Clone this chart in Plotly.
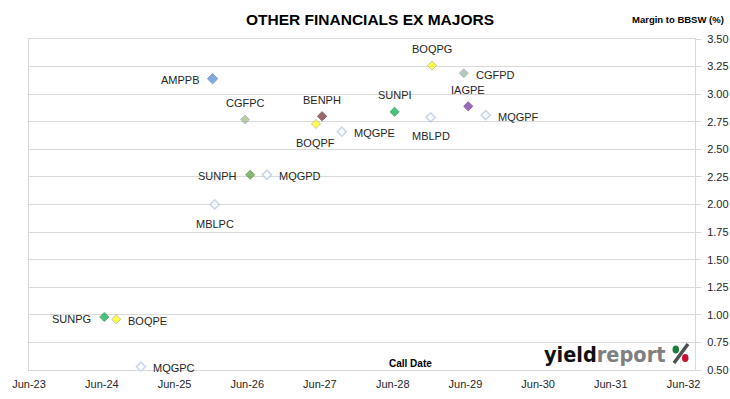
import plotly.graph_objects as go

# ---- data ----
codes = ["AMPPB", "MBLPC", "CGFPC", "SUNPH", "MQGPD", "BOQPF", "BENPH", "MQGPE",
         "SUNPI", "MBLPD", "BOQPG", "CGFPD", "IAGPE", "MQGPF", "SUNPG", "BOQPE", "MQGPC"]
call_dates = ["2025-12-09", "2025-12-20", "2026-05-21", "2026-06-16", "2026-09-08",
              "2027-05-12", "2027-06-12", "2027-09-19", "2028-06-10", "2028-12-08",
              "2028-12-15", "2029-05-24", "2029-06-15", "2029-09-11", "2024-06-13",
              "2024-08-12", "2024-12-14"]
margins = [3.14, 2.00, 2.77, 2.27, 2.27, 2.73, 2.80, 2.66, 2.84, 2.79, 3.26, 3.19,
           2.89, 2.81, 0.98, 0.96, 0.53]

tick_dates = ["2023-06-01", "2024-06-01", "2025-06-01", "2026-06-01", "2027-06-01",
              "2028-06-01", "2029-06-01", "2030-06-01", "2031-06-01", "2032-06-01"]
tick_labels = ["Jun-23", "Jun-24", "Jun-25", "Jun-26", "Jun-27", "Jun-28", "Jun-29",
               "Jun-30", "Jun-31", "Jun-32"]
y_ticks = [0.50, 0.75, 1.00, 1.25, 1.50, 1.75, 2.00, 2.25, 2.50, 2.75, 3.00, 3.25, 3.50]

# ---- styles ----
HOLLOW = dict(fill="#FFFFFF", line="#B4C7E7", size=7, lw=1.6)
style = {
    "AMPPB": dict(fill="#4F86D0", line="#4479C0", size=8, lw=1),
    "MBLPC": HOLLOW, "MBLPD": HOLLOW, "MQGPC": HOLLOW, "MQGPD": HOLLOW,
    "MQGPE": HOLLOW, "MQGPF": HOLLOW,
    "CGFPC": dict(fill="#A2B97A", line="#90AACB", size=7, lw=1),
    "CGFPD": dict(fill="#9CB192", line="#8CA6C8", size=7, lw=1),
    "SUNPH": dict(fill="#5A9A36", line="#4A862C", size=7, lw=1),
    "SUNPI": dict(fill="#00A848", line="#00923C", size=7, lw=1),
    "SUNPG": dict(fill="#00A848", line="#00923C", size=7, lw=1),
    "BOQPE": dict(fill="#FFFF00", line="#B0B086", size=7, lw=1),
    "BOQPF": dict(fill="#FFFF00", line="#B0B086", size=7, lw=1),
    "BOQPG": dict(fill="#FFFF00", line="#B0B086", size=7, lw=1),
    "BENPH": dict(fill="#722828", line="#521818", size=7, lw=1),
    "IAGPE": dict(fill="#6E2E9E", line="#58207E", size=7, lw=1),
}
label_pos = {
    "AMPPB": "left", "MBLPC": "below", "CGFPC": "above", "SUNPH": "left",
    "MQGPD": "right", "BOQPF": "below", "BENPH": "above", "MQGPE": "right",
    "SUNPI": "above", "MBLPD": "below", "BOQPG": "above", "CGFPD": "right",
    "IAGPE": "above", "MQGPF": "right", "SUNPG": "left", "BOQPE": "right",
    "MQGPC": "right",
}

FONT = "Liberation Sans, Arial, sans-serif"
TXT = "#262626"
GRID = "#D9D9D9"

fig = go.Figure()
fig.add_trace(go.Scatter(
    x=call_dates, y=margins, mode="markers",
    marker=dict(symbol="diamond",
                color=[style[c]["fill"] for c in codes],
                size=[style[c]["size"] for c in codes],
                line=dict(color=[style[c]["line"] for c in codes],
                          width=[style[c]["lw"] for c in codes])),
    hovertext=codes, showlegend=False, cliponaxis=False,
))

annotations = []
for c, d, m in zip(codes, call_dates, margins):
    p = label_pos[c]
    a = dict(x=d, y=m, xref="x", yref="y", text=c, showarrow=False,
             font=dict(family=FONT, size=11, color=TXT))
    if p == "left":
        a.update(xanchor="right", yanchor="middle", xshift=-11, yshift=-1.5)
    elif p == "right":
        a.update(xanchor="left", yanchor="middle", xshift=10, yshift=-1.5)
    elif p == "above":
        a.update(xanchor="center", yanchor="middle", yshift=16.5)
    else:
        a.update(xanchor="center", yanchor="middle", yshift=-19)
    annotations.append(a)


def px(xp):
    return (xp - 29) / 666


def py(yp):
    return (370 - yp) / 331


# titles
annotations.append(dict(text="<b>OTHER FINANCIALS EX MAJORS</b>", xref="paper", yref="paper",
                        x=px(369.5), y=py(19), xanchor="center", yanchor="middle",
                        showarrow=False, font=dict(family=FONT, size=15.5, color="#000000")))
annotations.append(dict(text="<b>Margin to BBSW (%)</b>", xref="paper", yref="paper",
                        x=px(726), y=py(19.5), xanchor="right", yanchor="middle",
                        showarrow=False, font=dict(family=FONT, size=9.5, color="#000000")))
annotations.append(dict(text="<b>Call Date</b>", xref="paper", yref="paper",
                        x=px(411), y=py(363), xanchor="center", yanchor="middle",
                        showarrow=False, font=dict(family=FONT, size=10, color="#000000")))
# logo text
annotations.append(dict(text="<b>yield</b><b><span style='color:#7F7F7F'>report</span></b>",
                        xref="paper", yref="paper",
                        x=px(542), y=py(354), xanchor="left", yanchor="middle",
                        showarrow=False, font=dict(family="DejaVu Sans Condensed, DejaVu Sans, sans-serif",
                                                   size=21.5, color="#111111")))

shapes = [
    dict(type="line", xref="paper", yref="paper", x0=px(688), y0=py(344), x1=px(674), y1=py(363),
         line=dict(color="#505050", width=3.5)),
    dict(type="circle", xref="paper", yref="paper", x0=px(672.5), y0=py(345.5), x1=px(679), y1=py(353.5),
         fillcolor="#1E7B3A", line=dict(color="#1E7B3A", width=0)),
    dict(type="circle", xref="paper", yref="paper", x0=px(682), y0=py(354), x1=px(688.5), y1=py(362),
         fillcolor="#C8102E", line=dict(color="#C8102E", width=0)),
]

fig.update_layout(
    width=730, height=399, autosize=False,
    margin=dict(l=29, r=35, t=39, b=29),
    paper_bgcolor="#FFFFFF", plot_bgcolor="#FFFFFF",
    annotations=annotations, shapes=shapes,
    font=dict(family=FONT, size=11, color=TXT),
    xaxis=dict(type="date", range=["2023-06-01", "2032-07-28"], automargin=False,
               tickmode="array", tickvals=tick_dates, ticktext=tick_labels,
               showgrid=False, zeroline=False, showline=True, mirror=True,
               linecolor=GRID, linewidth=1, ticks="", ticklabelstandoff=4,
               tickfont=dict(family=FONT, size=11, color=TXT)),
    yaxis=dict(side="right", range=[0.5, 3.5], tickmode="array", tickvals=y_ticks,
               automargin=False,
               tickformat=".2f", showgrid=True, gridcolor=GRID, gridwidth=1,
               zeroline=False, showline=True, mirror=True, linecolor=GRID, linewidth=1,
               ticks="outside", ticklen=5, tickcolor=GRID, ticklabelstandoff=4,
               tickfont=dict(family=FONT, size=11, color=TXT)),
    hovermode=False,
)

fig.write_html("out.html", config={"displayModeBar": False},
               post_script="document.body.style.margin='0px';")
